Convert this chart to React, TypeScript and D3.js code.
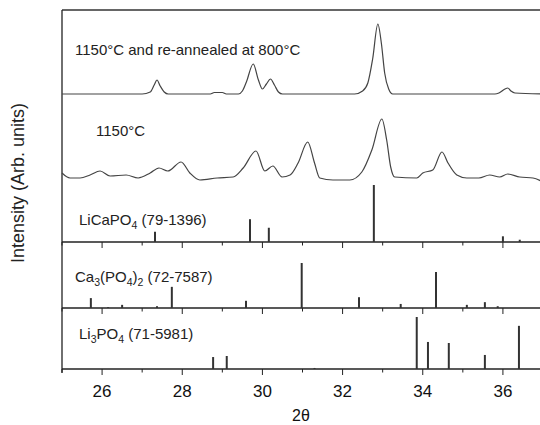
import * as d3 from 'd3';

// 2θ axis
const MAJOR_TICKS = [26, 28, 30, 32, 34, 36];
const MINOR_TICKS = [25, 27, 29, 31, 33, 35, 37];

// measured scans: [2θ, counts]
const annealedScan: [number, number][] = [
  [25.0, 0], [27.0, 0], [27.2, 20], [27.3, 90], [27.37, 140], [27.45, 80], [27.55, 20], [27.65, 0],
  [28.7, 0], [28.8, 15], [29.0, 15], [29.1, 0], [29.4, 0], [29.5, 30], [29.6, 120], [29.77, 300],
  [29.9, 140], [30.0, 50], [30.1, 100], [30.2, 150], [30.3, 90], [30.4, 20], [30.5, 0],
  [32.3, 0], [32.5, 30], [32.63, 110], [32.75, 350], [32.88, 700], [32.97, 500], [33.05, 210],
  [33.15, 50], [33.25, 0], [35.8, 0], [35.9, 10], [36.05, 50], [36.12, 60], [36.2, 30], [36.3, 10],
  [37.0, 0],
];

const asFiredScan: [number, number][] = [
  [25.0, 70], [25.2, 20], [25.45, 20], [25.7, 50], [25.95, 90], [26.2, 40], [26.6, 50], [26.9, 20],
  [27.2, 70], [27.42, 120], [27.64, 90], [27.97, 180], [28.19, 70], [28.44, 0], [28.87, 20],
  [29.27, 30], [29.52, 120], [29.84, 290], [30.06, 90], [30.26, 140], [30.49, 30], [30.69, 50],
  [30.89, 170], [31.13, 380], [31.3, 170], [31.43, 20], [31.76, 0], [32.18, 0], [32.48, 80],
  [32.73, 300], [32.98, 610], [33.1, 400], [33.2, 130], [33.3, 30], [33.85, 20], [34.0, 70],
  [34.25, 100], [34.48, 280], [34.63, 170], [34.85, 50], [35.1, 20], [35.4, 20], [35.67, 50],
  [35.92, 30], [36.12, 60], [36.42, 30], [36.75, 20], [37.0, -20],
];

// reference patterns (JCPDS): positions and relative intensities
const licapoPos = [27.32, 29.69, 30.16, 32.78, 36.0, 36.42];
const licapoInt = [18, 40, 25, 100, 10, 4];

const tcpPos = [25.72, 26.15, 26.5, 27.37, 27.74, 29.59, 30.98, 32.41, 33.45, 34.33, 35.1, 35.55, 35.87];
const tcpInt = [22, 2, 7, 4, 47, 16, 100, 24, 9, 80, 7, 13, 4];

const li3Pos = [28.77, 29.11, 31.3, 33.85, 34.13, 34.65, 35.55, 36.4];
const li3Int = [23, 25, 2, 100, 52, 50, 27, 83];

const FONT = '"Liberation Sans", Arial, sans-serif';
const INK = '#222';

export default function App() {
  const W = 540, H = 425;
  const left = 62, right = 543, top = 10, bottom = 369;

  const x = d3.scaleLinear().domain([25, 37]).range([left, right]);
  const counts = d3.scaleLinear().domain([0, 700]).range([0, 70]);

  const scanPath = (data: [number, number][], base: number) =>
    d3.line<[number, number]>()
      .x((d) => x(d[0]))
      .y((d) => base - counts(d[1]))
      .curve(d3.curveMonotoneX)(data) ?? '';

  const panels = [
    { pos: licapoPos, int: licapoInt, base: 242, full: 57 },
    { pos: tcpPos, int: tcpInt, base: 308, full: 45 },
    { pos: li3Pos, int: li3Int, base: 369, full: 52 },
  ];

  return (
    <svg width={W} height={H} style={{ display: 'block', position: 'absolute', left: 0, top: 0, background: '#fff' }}>
      <rect width={W} height={H} fill="#fff" />

      {/* frame */}
      <line x1={left} x2={W} y1={top} y2={top} stroke="#333" strokeWidth={1.6} />
      <line x1={left} x2={left} y1={top} y2={bottom + 4} stroke={INK} strokeWidth={1.3} />

      {/* scans */}
      <path d={scanPath(annealedScan, 94)} fill="none" stroke="#444" strokeWidth={1.2} />
      <path d={scanPath(asFiredScan, 180)} fill="none" stroke="#444" strokeWidth={1.2} />

      {/* reference panels */}
      {panels.map((p, i) => {
        const h = d3.scaleLinear().domain([0, 100]).range([0, p.full]);
        return (
          <g key={i}>
            <line x1={left} x2={W} y1={p.base} y2={p.base} stroke={INK} strokeWidth={1.3} />
            {MAJOR_TICKS.map((t) => (
              <line key={'M' + t} x1={x(t)} x2={x(t)} y1={p.base} y2={p.base + 6} stroke={INK} strokeWidth={1} />
            ))}
            {MINOR_TICKS.map((t) => (
              <line key={'m' + t} x1={x(t)} x2={x(t)} y1={p.base} y2={p.base + 3.5} stroke={INK} strokeWidth={1} />
            ))}
            {p.pos.map((v, j) => (
              <line key={j} x1={x(v)} x2={x(v)} y1={p.base} y2={p.base - h(p.int[j])} stroke="#333" strokeWidth={2} />
            ))}
          </g>
        );
      })}

      {/* tick labels */}
      {MAJOR_TICKS.map((t) => (
        <text key={t} x={x(t)} y={397} textAnchor="middle" fontFamily={FONT} fontSize={17} fill="#111">
          {t}
        </text>
      ))}

      <text x={301} y={421} textAnchor="middle" fontFamily={FONT} fontSize={16} fill="#111">2θ</text>
      <text transform="translate(24,183) rotate(-90)" textAnchor="middle" fontFamily={FONT} fontSize={18} fill="#222">
        Intensity (Arb. units)
      </text>

      {/* series labels */}
      <g fontFamily={FONT} fontSize={15} fill="#222">
        <text x={75} y={55}>1150°C and re-annealed at 800°C</text>
        <text x={96} y={136}>1150°C</text>
        <text x={79} y={225}>
          LiCaPO<tspan fontSize={10.5} dy={4}>4</tspan><tspan dy={-4}> (79-1396)</tspan>
        </text>
        <text x={75} y={282}>
          Ca<tspan fontSize={10.5} dy={4}>3</tspan><tspan dy={-4}>(PO</tspan><tspan fontSize={10.5} dy={4}>4</tspan>
          <tspan dy={-4}>)</tspan><tspan fontSize={10.5} dy={4}>2</tspan><tspan dy={-4}> (72-7587)</tspan>
        </text>
        <text x={79} y={339}>
          Li<tspan fontSize={10.5} dy={4}>3</tspan><tspan dy={-4}>PO</tspan><tspan fontSize={10.5} dy={4}>4</tspan>
          <tspan dy={-4}> (71-5981)</tspan>
        </text>
      </g>
    </svg>
  );
}
